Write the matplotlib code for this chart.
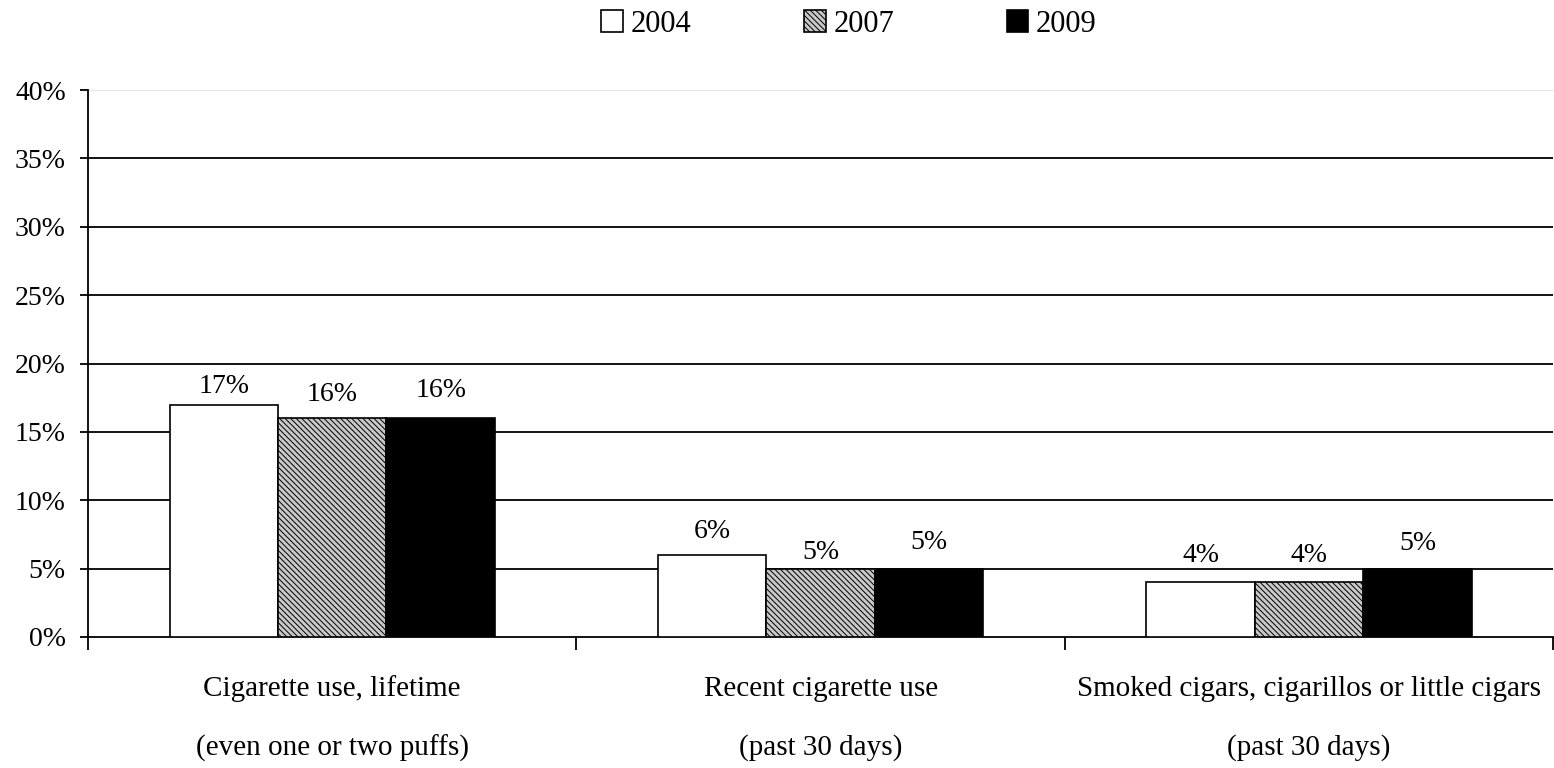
import matplotlib
matplotlib.use("Agg")
import matplotlib.pyplot as plt
import numpy as np

categories = [
    "Cigarette use, lifetime",
    "Recent cigarette use",
    "Smoked cigars, cigarillos or little cigars",
]
subtitles = ["(even one or two puffs)", "(past 30 days)", "(past 30 days)"]
years = ["2004", "2007", "2009"]
values_2004 = [17, 6, 4]
values_2007 = [16, 5, 4]
values_2009 = [16, 5, 5]
y_ticks = [0, 5, 10, 15, 20, 25, 30, 35, 40]

# gap (px) between bar top and its value label, per series, per category
label_gap_px = [[6, 11, 14], [11, 4, 14], [15, 14, 13]]

plt.rcParams["font.family"] = ["Liberation Serif", "DejaVu Serif"]
plt.rcParams["hatch.linewidth"] = 0.7

W, H = 1554, 768
fig = plt.figure(figsize=(W / 100, H / 100), dpi=100)
ax = fig.add_axes([88 / W, 131 / H, 1 - 88 / W - 0.0005, 547 / H])

x = np.arange(len(categories))
width = 0.222
styles = [
    dict(face="white", hatch=None),
    dict(face="#c8c8c8", hatch="\\\\\\\\\\\\"),
    dict(face="black", hatch=None),
]
series = [values_2004, values_2007, values_2009]

for grid_val in y_ticks[1:-1]:
    ax.axhline(grid_val, color="black", lw=1.3, zorder=1)
ax.axhline(40, color="#e6e6e6", lw=1.0, zorder=1)

handles = []
for i, (vals, st) in enumerate(zip(series, styles)):
    bars = ax.bar(x + (i - 1) * width, vals, width, facecolor=st["face"],
                  edgecolor="black", hatch=st["hatch"], linewidth=1.2,
                  label=years[i], zorder=3)
    handles.append(bars)
    for xi, v, gap in zip(x + (i - 1) * width, vals, label_gap_px[i]):
        ax.annotate(f"{v}%", (xi, v), xytext=(0, gap * 0.72),
                    textcoords="offset points", ha="center", va="bottom",
                    fontsize=20)

ax.set_xlim(-0.5, len(categories) - 0.5)
ax.set_ylim(0, 40)
ax.set_yticks(y_ticks)
ax.set_yticklabels([f"{t}%" for t in y_ticks], fontsize=20)
ax.tick_params(axis="y", length=6, width=1.3, direction="out", pad=10)

ax.set_xticks(np.arange(-0.5, len(categories)))
ax.set_xticklabels([])
ax.tick_params(axis="x", length=9, width=1.3, direction="out")
for xi, cat, sub in zip(x, categories, subtitles):
    ax.text(xi, -52 / 547, cat, transform=ax.get_xaxis_transform(),
            ha="center", va="center", fontsize=21)
    ax.text(xi, -111 / 547, sub, transform=ax.get_xaxis_transform(),
            ha="center", va="center", fontsize=21)

for side in ["top", "right"]:
    ax.spines[side].set_visible(False)
ax.spines["left"].set_linewidth(1.3)
ax.spines["bottom"].set_linewidth(1.3)

fig.legend(handles=handles, labels=years, loc="center",
           bbox_to_anchor=(849 / W, 1 - 24 / H), ncol=3, frameon=False,
           fontsize=22, handlelength=0.7, handleheight=0.7,
           handletextpad=0.25, columnspacing=3.7, borderpad=0)

fig.savefig("out.png", dpi=100)
